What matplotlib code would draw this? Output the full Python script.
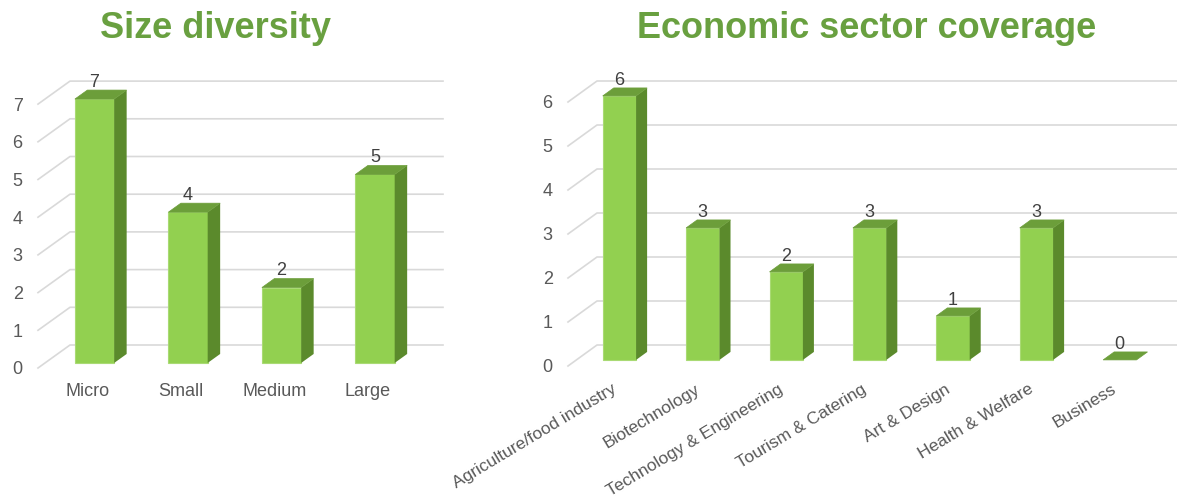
import matplotlib.pyplot as plt

plt.rcParams['font.family'] = ['Liberation Sans', 'DejaVu Sans']

# data
size_cats = ['Micro', 'Small', 'Medium', 'Large']
size_vals = [7, 4, 2, 5]

sector_cats = ['Agriculture/food industry', 'Biotechnology', 'Technology & Engineering',
               'Tourism & Catering', 'Art & Design', 'Health & Welfare', 'Business']
sector_vals = [6, 3, 2, 3, 1, 3, 0]

W, H = 1177, 497
fig = plt.figure(figsize=(W / 100, H / 100), dpi=100)

FRONT = '#92d050'
SIDE = '#5b8a2c'
TOP = '#6c9e3a'
GRID = '#d9d9d9'
TICK = '#595959'
LABEL = '#404040'
TITLE = '#69a040'


def panel(cats, vals, ymax, g, rot=0, xsize=13):
    # g holds the pixel layout of one panel
    ax = fig.add_axes([g['left'] / W, 1 - g['bottom'] / H,
                       (g['right'] - g['left']) / W, (g['bottom'] - g['top']) / H])
    ax.set_xlim((g['left'] - g['x0']) / g['step'], (g['right'] - g['x0']) / g['step'])
    ax.set_ylim((g['y0'] - g['bottom']) / g['unit'], (g['y0'] - g['top']) / g['unit'])
    DX = g['dx'] / g['step']
    DY = g['dy'] / g['unit']
    xl, xr = ax.get_xlim()

    # back wall gridlines with floor diagonals
    for v in range(ymax + 1):
        ax.plot([xl, xl + DX, xr], [v, v + DY, v + DY], color=GRID, lw=1.2,
                clip_on=False, zorder=1)

    d1, d2, w = g['d1'], g['d2'], g['width']
    ddx, ddy = (d2 - d1) * DX, (d2 - d1) * DY
    for i, v in enumerate(vals):
        xc = i + d1 * DX
        a, b = xc - w / 2, xc + w / 2
        y0, y1 = d1 * DY, v + d1 * DY
        if v > 0:
            ax.fill([a, b, b, a], [y0, y0, y1, y1], color=FRONT, ec='#a9da74',
                    lw=0.8, clip_on=False, zorder=3)
            ax.fill([b, b + ddx, b + ddx, b], [y0, y0 + ddy, y1 + ddy, y1],
                    color=SIDE, lw=0, clip_on=False, zorder=3)
        ax.fill([a, b, b + ddx, a + ddx], [y1, y1, y1 + ddy, y1 + ddy],
                color=TOP, ec=TOP, lw=0.5, clip_on=False, zorder=4)
        ax.annotate(str(v), (xc, y1 + ddy), xytext=(0, 5.5), textcoords='offset points',
                    ha='center', va='center', fontsize=13, color=LABEL)

    ax.set_yticks(range(ymax + 1))
    ax.set_xticks(range(len(cats)))
    if rot:
        ax.set_xticklabels(cats, rotation=rot, ha='right', va='top', rotation_mode='anchor')
    else:
        ax.set_xticklabels(cats)
    ax.tick_params(axis='y', length=0, pad=11, labelsize=13, labelcolor=TICK)
    ax.tick_params(axis='x', length=0, pad=4, labelsize=xsize, labelcolor=TICK)
    for s in ax.spines.values():
        s.set_visible(False)
    return ax


left_geom = dict(left=38, right=443, top=60, bottom=377, x0=87.5, step=93.5,
                 y0=368, unit=37.7, dx=32, dy=23, d1=0.22, d2=0.61, width=0.42)
right_geom = dict(left=568, right=1177, top=60, bottom=376, x0=611, step=83.4,
                  y0=366, unit=44, dx=29, dy=21, d1=0.29, d2=0.67, width=0.40)

panel(size_cats, size_vals, 7, left_geom)
panel(sector_cats, sector_vals, 6, right_geom, rot=31, xsize=12.5)

fig.text(216 / W, 1 - 29 / H, 'Size diversity', ha='center', va='center',
         fontsize=26, fontweight='bold', color=TITLE)
fig.text(867 / W, 1 - 29 / H, 'Economic sector coverage', ha='center', va='center',
         fontsize=26, fontweight='bold', color=TITLE)

fig.savefig('out.png', dpi=100)
